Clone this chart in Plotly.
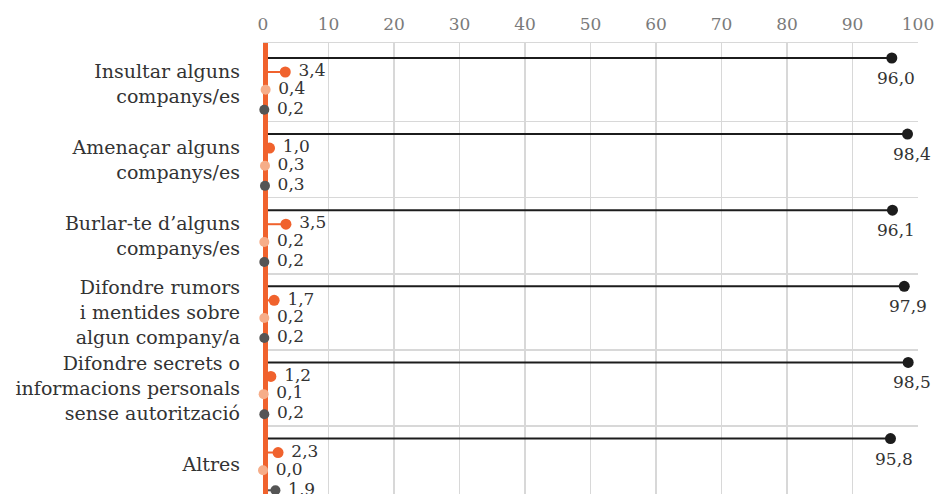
import plotly.graph_objects as go

# ---- data ----
categories = [
    "Insultar alguns<br>companys/es",
    "Amenaçar alguns<br>companys/es",
    "Burlar-te d’alguns<br>companys/es",
    "Difondre rumors<br>i mentides sobre<br>algun company/a",
    "Difondre secrets o<br>informacions personals<br>sense autorització",
    "Altres",
]
serie_mai = [96.0, 98.4, 96.1, 97.9, 98.5, 95.8]
serie_alguna = [3.4, 1.0, 3.5, 1.7, 1.2, 2.3]
serie_sovint = [0.4, 0.3, 0.2, 0.2, 0.1, 0.0]
serie_molt = [0.2, 0.3, 0.2, 0.2, 0.2, 1.9]
x_ticks = [0, 10, 20, 30, 40, 50, 60, 70, 80, 90, 100]

# ---- style / layout constants ----
FONT = "DejaVu Serif"
ORANGE = "#F0622D"
SALMON = "#F6AD89"
GREY = "#555555"
BLACK = "#1C1C1C"
TXT = "#333333"
GRID = "#D8D8D8"

Y_TOP = -0.197
Y_BOTTOM = 5.729
OFF_BLACK, OFF_OR, OFF_SAL, OFF_GREY = 0.0, 0.184, 0.417, 0.68
LABEL_OFF = 0.34
SEP_OFF = -0.164
BAR_X = 0.38


def fmt(v):
    return f"{v:.1f}".replace(".", ",")


n = len(categories)
fig = go.Figure()


def stems(vals, off, color, width):
    xs, ys = [], []
    for i, v in enumerate(vals):
        xs += [0, v, None]
        ys += [i + off, i + off, None]
    fig.add_trace(go.Scatter(x=xs, y=ys, mode="lines",
                             line=dict(color=color, width=width),
                             hoverinfo="skip", showlegend=False))


stems(serie_mai, OFF_BLACK, BLACK, 2)
stems(serie_alguna, OFF_OR, ORANGE, 2)
stems(serie_sovint, OFF_SAL, SALMON, 2)
stems(serie_molt, OFF_GREY, GREY, 2)

# orange axis bar at zero
fig.add_trace(go.Scatter(x=[BAR_X, BAR_X], y=[Y_TOP, Y_BOTTOM], mode="lines",
                         line=dict(color=ORANGE, width=5),
                         hoverinfo="skip", showlegend=False))


def dots(vals, off, color, size, with_text):
    fig.add_trace(go.Scatter(
        x=vals, y=[i + off for i in range(n)],
        mode="markers+text" if with_text else "markers",
        marker=dict(color=color, size=size, line=dict(width=0)),
        text=["\u00a0" + fmt(v) for v in vals] if with_text else None,
        textposition="middle right",
        textfont=dict(family=FONT, size=17, color=TXT),
        cliponaxis=False, hoverinfo="skip", showlegend=False))


dots(serie_mai, OFF_BLACK, BLACK, 11, False)
dots(serie_alguna, OFF_OR, ORANGE, 11, True)
dots(serie_sovint, OFF_SAL, SALMON, 10, True)
dots(serie_molt, OFF_GREY, GREY, 10, True)

for i, v in enumerate(serie_mai):
    fig.add_annotation(x=v, y=i + OFF_BLACK, text=fmt(v), showarrow=False,
                       xanchor="center", yanchor="middle", xshift=4, yshift=-20,
                       font=dict(family=FONT, size=17, color=TXT))

fig.update_layout(
    width=934, height=494,
    margin=dict(l=263, r=16, t=43, b=0, autoexpand=False),
    paper_bgcolor="white", plot_bgcolor="white",
    font=dict(family=FONT, color=TXT),
    showlegend=False,
    hovermode=False,
)
fig.update_xaxes(
    side="top", range=[0, 100], tickvals=x_ticks,
    ticktext=[str(t) for t in x_ticks],
    tickfont=dict(family=FONT, size=17, color="#7A7A7A"),
    showgrid=True, gridcolor=GRID, gridwidth=1.5,
    zeroline=False, showline=True, linecolor=GRID, linewidth=1.5,
    ticks="", ticklabelstandoff=5, ticklabeloverflow="allow",
    fixedrange=True, automargin=False,
)
fig.update_yaxes(
    range=[Y_BOTTOM, Y_TOP],
    tickvals=[i + LABEL_OFF for i in range(n)], ticktext=categories,
    tickfont=dict(family=FONT, size=19, color=TXT),
    showgrid=False, zeroline=False, showline=False, ticks="",
    ticklabelstandoff=22, automargin=False,
    minor=dict(tickvals=[i + SEP_OFF for i in range(1, n)], showgrid=True,
               gridcolor=GRID, gridwidth=1.5, ticks=""),
    fixedrange=True,
)

fig.write_html(
    "out.html",
    config={"displayModeBar": False, "staticPlot": True},
    post_script="document.body.style.margin='0';"
                "document.body.style.overflow='hidden';",
)
